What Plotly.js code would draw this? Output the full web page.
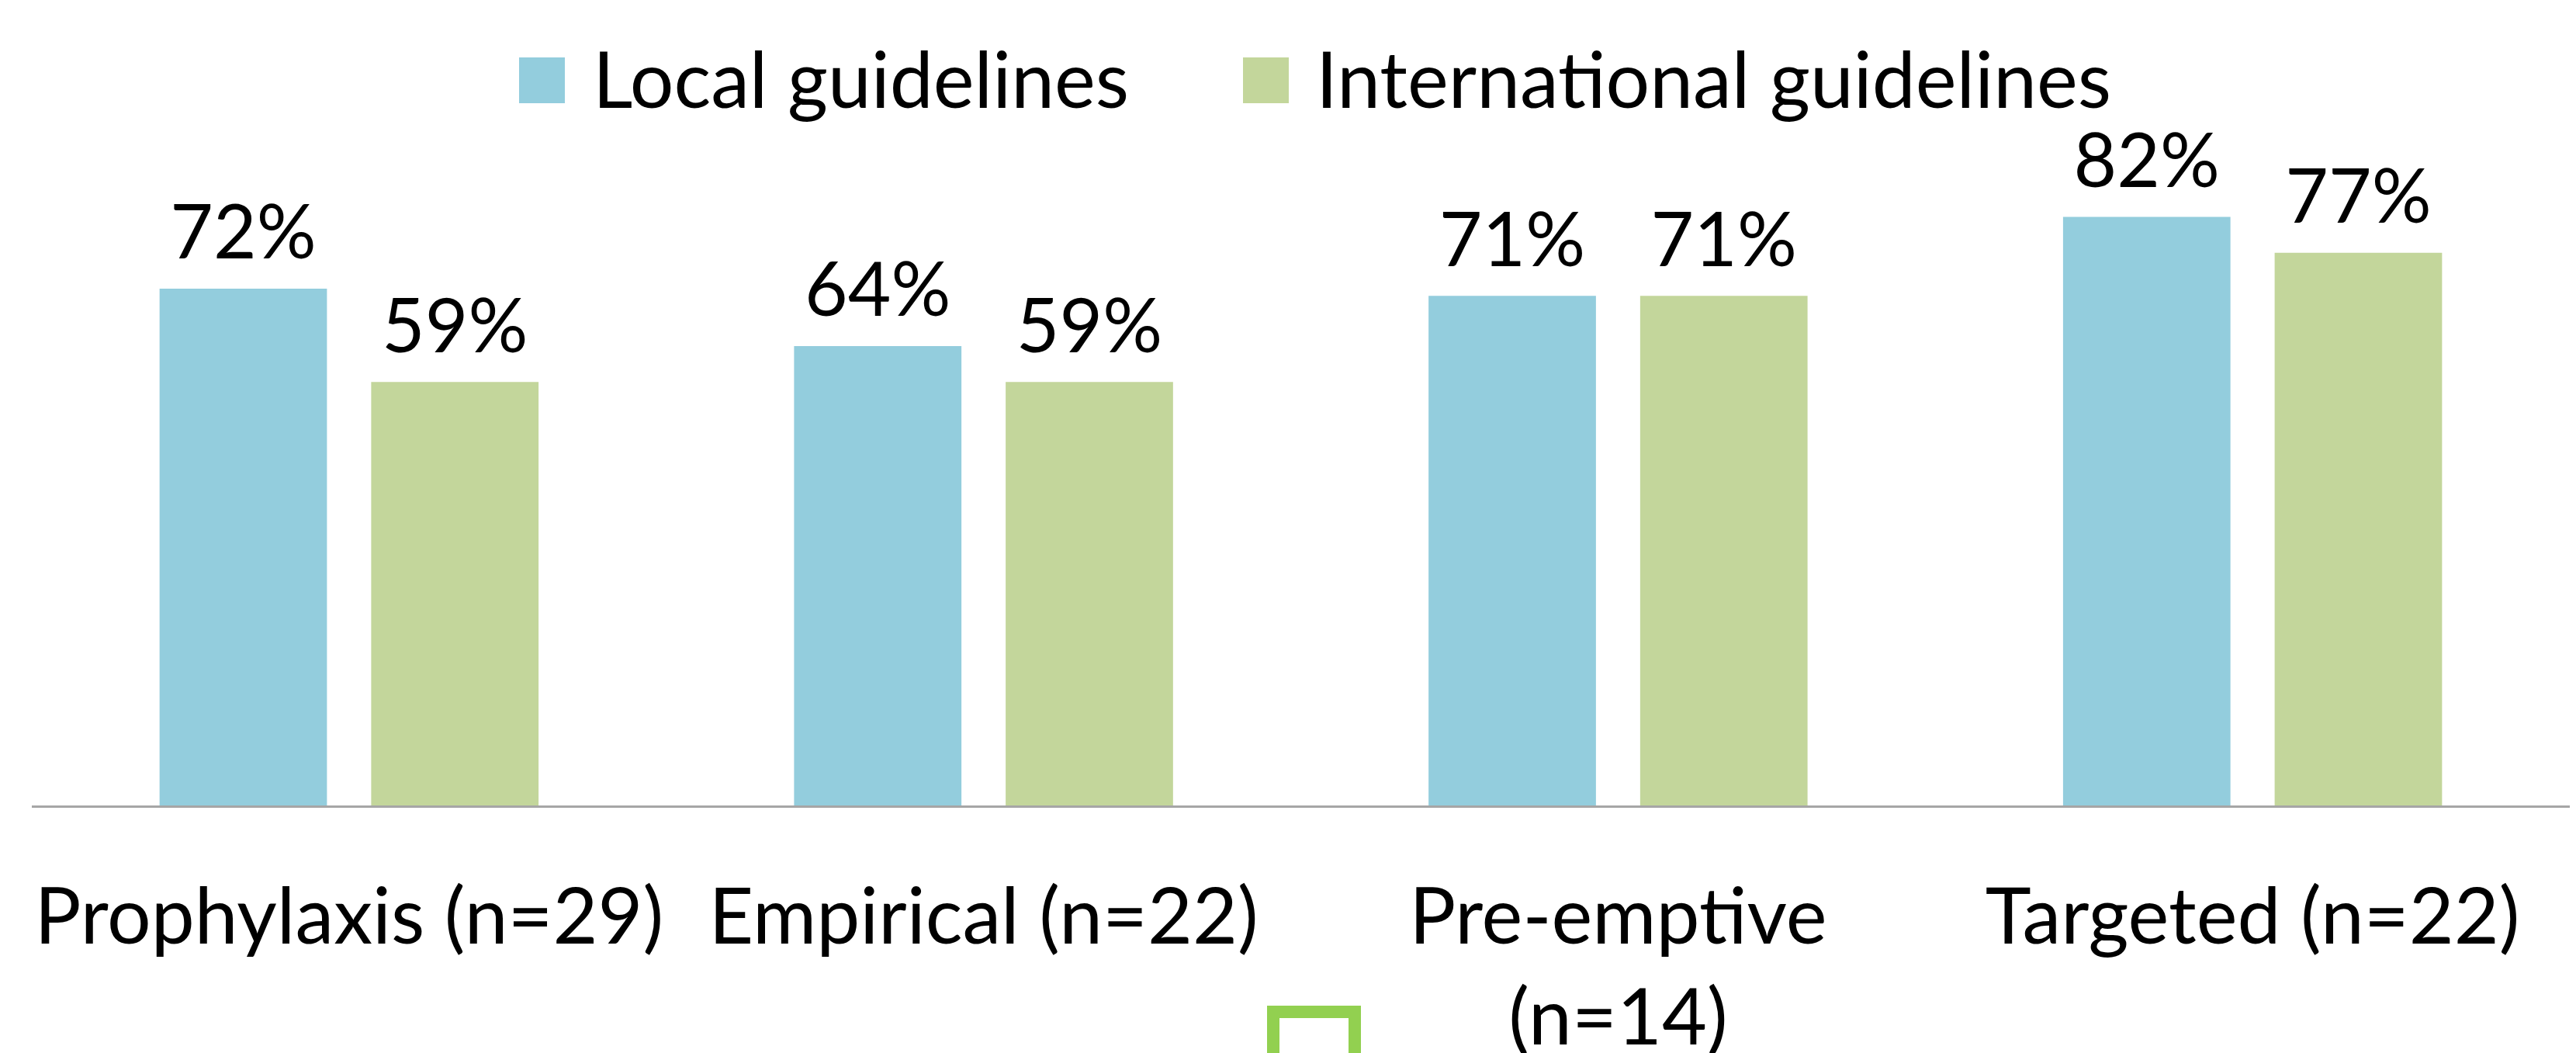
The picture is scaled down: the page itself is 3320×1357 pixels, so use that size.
<!DOCTYPE html>
<html><head><meta charset="utf-8">
<script src="https://cdn.plot.ly/plotly-3.0.1.min.js"></script>
<style>html,body{margin:0;padding:0;background:#fff}</style>
</head><body>
<div id="chart" style="width:3320px;height:1357px"></div>
<script>
// ---- data ----
const categories = ['Prophylaxis (n=29)', 'Empirical (n=22)', 'Pre-emptive<br>(n=14)', 'Targeted (n=22)'];
const seriesNames = ['Local guidelines', 'International guidelines'];
const localValues = [72, 64, 71, 82];
const internationalValues = [59, 59, 71, 77];
const seriesColors = ['#93CDDD', '#C3D69B'];

// ---- geometry helpers (figure pixels -> paper) ----
const W = 3320, H = 1357;
const M = {l: 41, r: 8, t: 113, b: 319};
const pL = M.l, pR = W - M.r, pT = M.t, pB = H - M.b;
const px = p => (p - pL) / (pR - pL);
const py = p => (pB - p) / (pB - pT);

const FONT = 'Lato, "Open Sans", sans-serif';
const FS = 100;
const FS_VAL = 96;

const seriesValues = [localValues, internationalValues];
const traces = [];
for (let i = 0; i < 2; i++) {
  traces.push({type: 'bar', name: seriesNames[i], x: categories, y: seriesValues[i],
    marker: {color: seriesColors[i]}, offsetgroup: 'g' + i, hoverinfo: 'none'});
}
for (let i = 0; i < 2; i++) {
  traces.push({type: 'scatter', mode: 'markers+text', name: seriesNames[i], x: categories, y: seriesValues[i],
    text: seriesValues[i].map(v => v + '%'), textposition: 'top center', cliponaxis: false,
    offsetgroup: 'g' + i, marker: {size: 22, color: 'rgba(0,0,0,0)'},
    textfont: {family: FONT, size: FS_VAL, color: '#000'}, hoverinfo: 'none', showlegend: false});
}

const legendSq = [[669, 728], [1602, 1661]];
const legendTextX = [763, 1695];
const shapes = [];
const annotations = [];
for (let i = 0; i < 2; i++) {
  shapes.push({type: 'rect', xref: 'paper', yref: 'paper',
    x0: px(legendSq[i][0]), x1: px(legendSq[i][1]), y0: py(133), y1: py(74),
    fillcolor: seriesColors[i], line: {width: 0}});
  annotations.push({xref: 'paper', yref: 'paper', x: px(legendTextX[i]), y: py(100),
    xanchor: 'left', yanchor: 'middle', showarrow: false, text: seriesNames[i],
    font: {family: FONT, size: FS, color: '#000'}, borderpad: 0});
}
// decorative green outline square at bottom centre
shapes.push({type: 'rect', xref: 'paper', yref: 'paper',
  x0: px(1641), x1: px(1746), y0: py(1420), y1: py(1304),
  fillcolor: 'rgba(0,0,0,0)', line: {color: '#92D050', width: 16}});

const layout = {
  width: W, height: H,
  margin: {l: M.l, r: M.r, t: M.t, b: M.b, pad: 0},
  paper_bgcolor: '#fff', plot_bgcolor: '#fff',
  font: {family: FONT, size: FS, color: '#000'},
  barmode: 'group', bargap: 0.333, bargroupgap: 0.209,
  scattermode: 'group', scattergap: 0.333,
  showlegend: false,
  xaxis: {showline: true, linecolor: '#A6A6A6', linewidth: 3, ticks: '',
    showgrid: false, zeroline: false, tickfont: {family: FONT, size: FS, color: '#000'},
    ticklabelstandoff: 55, fixedrange: true},
  yaxis: {range: [0, 100], visible: false, fixedrange: true},
  shapes: shapes,
  annotations: annotations
};

Plotly.newPlot('chart', traces, layout, {displayModeBar: false, staticPlot: true});
</script>
</body></html>
